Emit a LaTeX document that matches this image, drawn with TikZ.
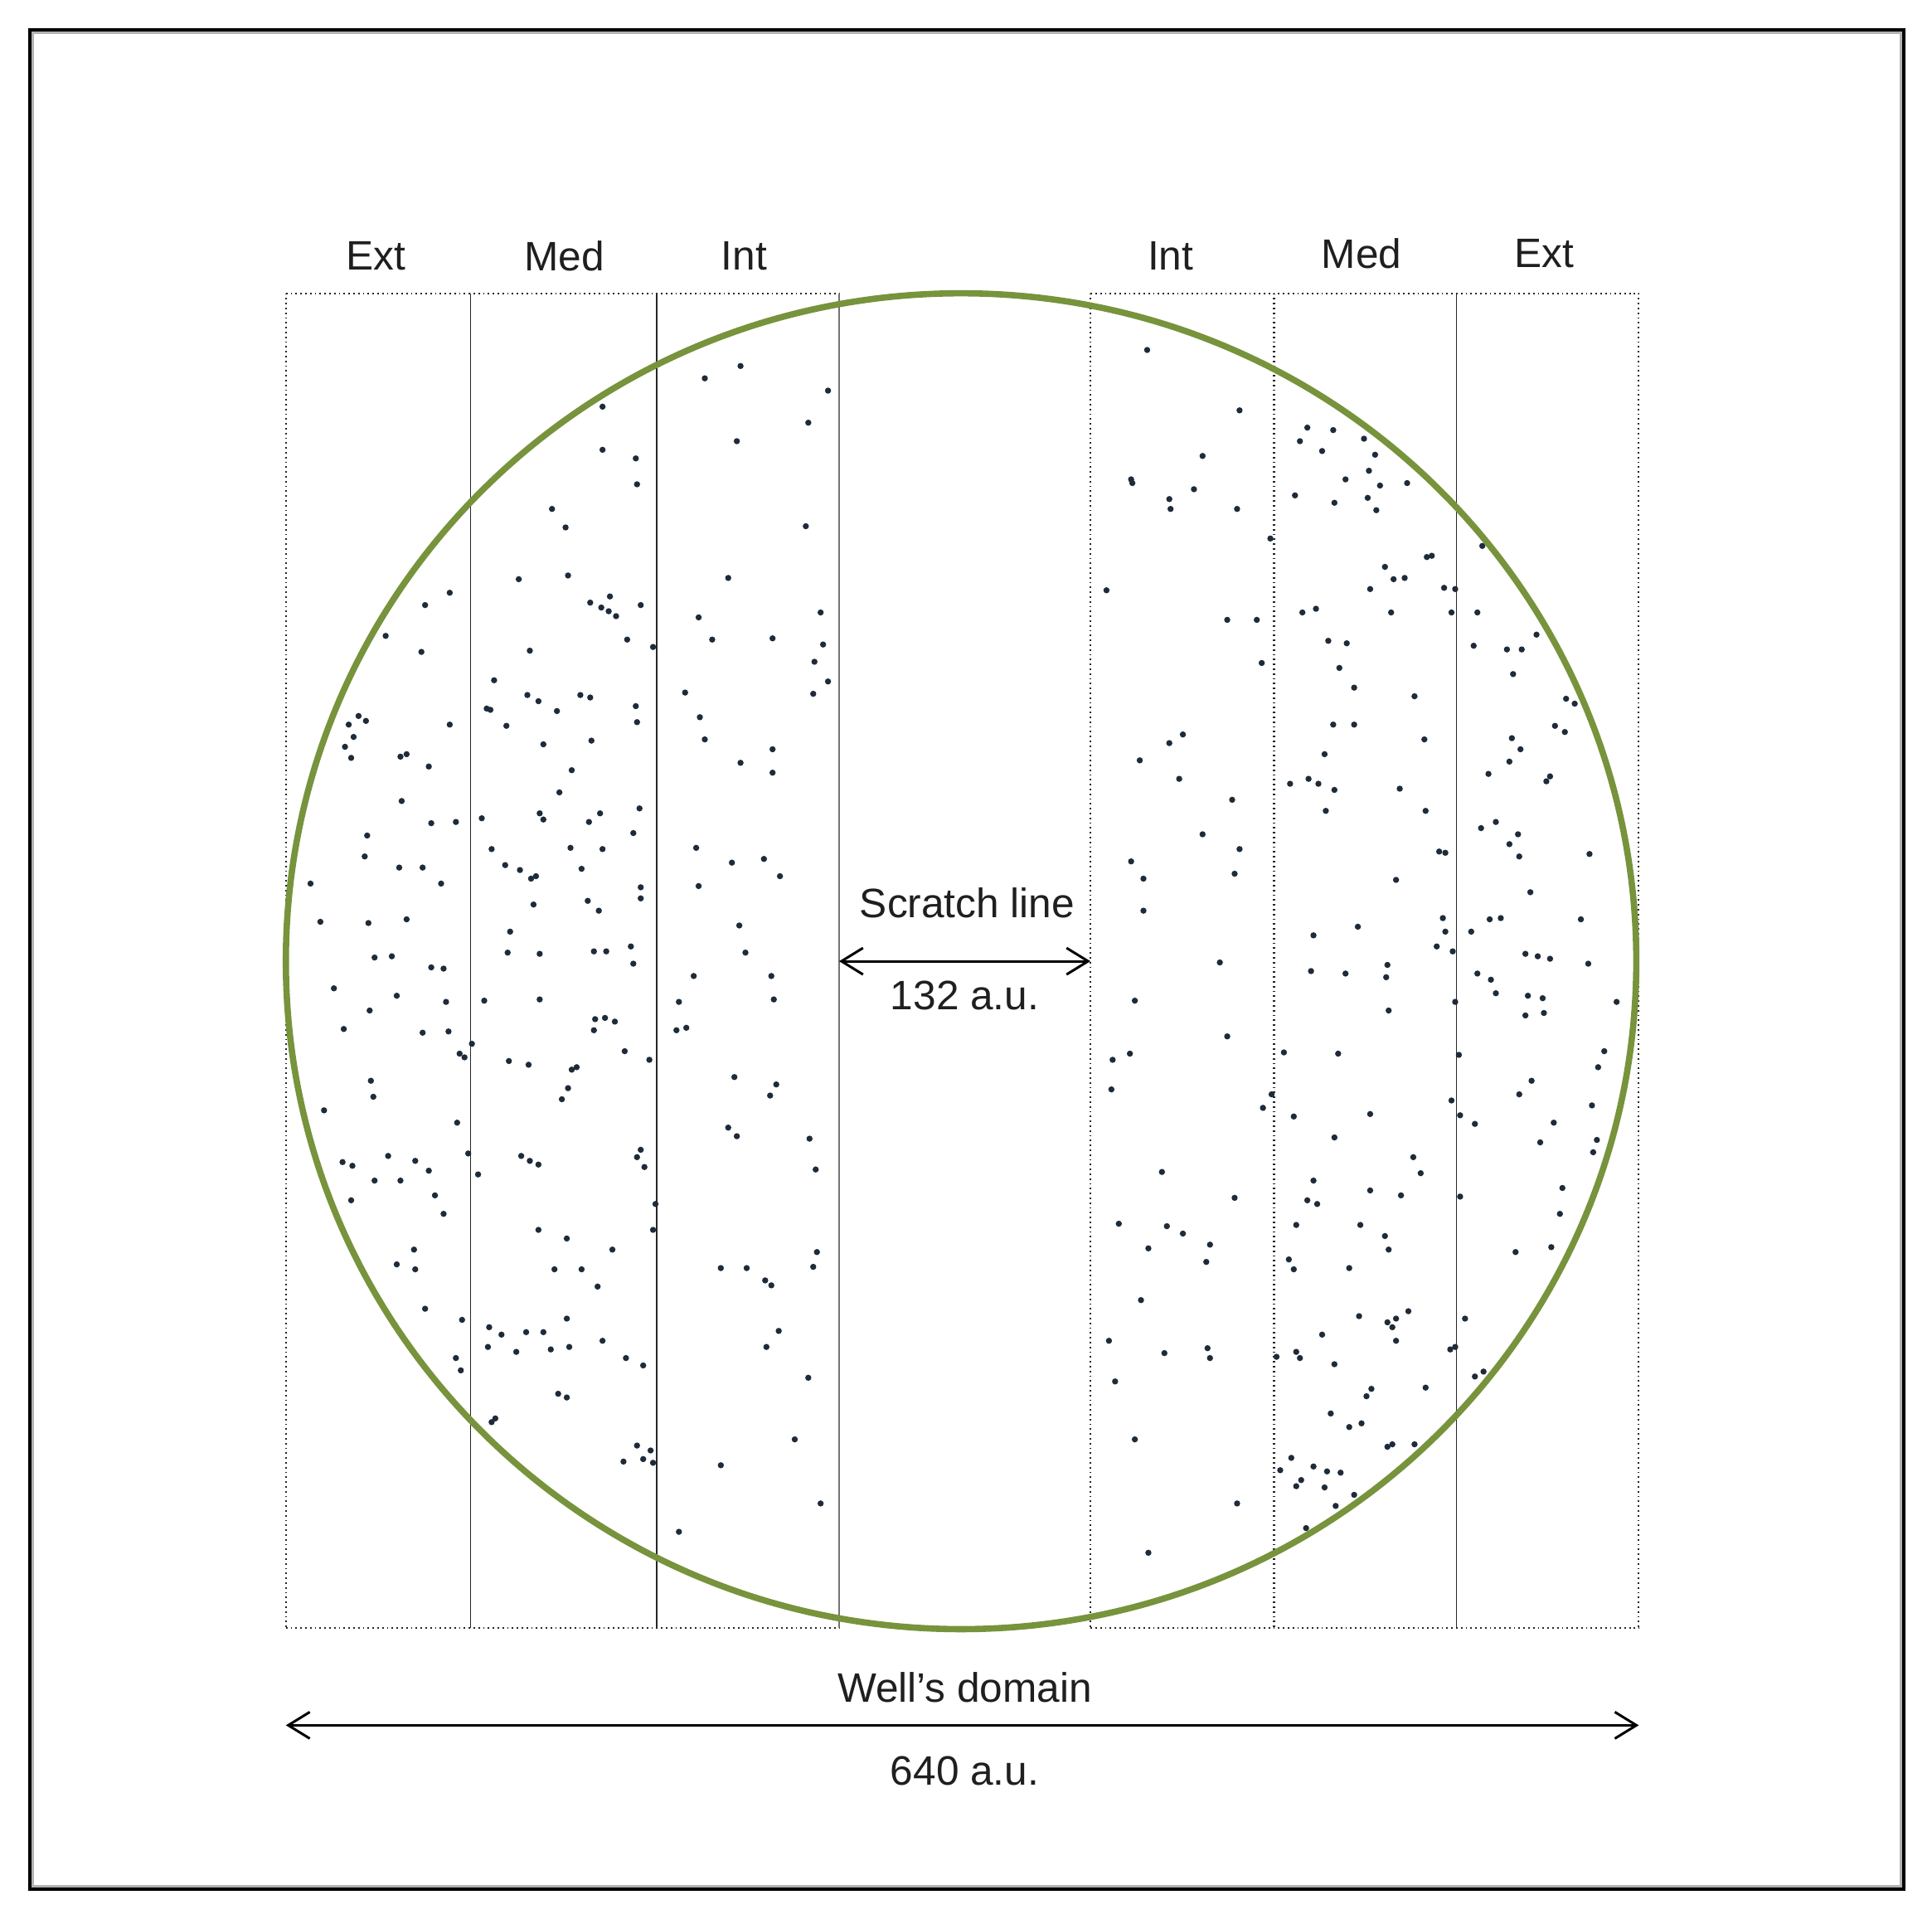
\documentclass[tikz,border=0pt]{standalone}
\usepackage{fontspec}
\setmainfont{Liberation Sans}
\usetikzlibrary{arrows.meta}
\definecolor{wellgreen}{HTML}{77933C}
\definecolor{celldot}{HTML}{1E2B3A}
\begin{document}
\begin{tikzpicture}[x=0.3715pt,y=-0.3715pt,
  lbl/.style={font=\fontsize{12.4}{14}\selectfont, text=black!88, inner sep=0pt, anchor=center},
  dimarrow/.style={line width=0.75pt, {Straight Barb[length=6.5pt,width=8pt]}-{Straight Barb[length=6.5pt,width=8pt]}},
  edgeline/.style={line width=0.45pt, densely dotted, black!85},
  innerline/.style={line width=0.4pt, black!85},
  greyline/.style={line width=0.4pt, black!55},
  celldots/.style={fill=celldot},
  wellrim/.style={draw=wellgreen, line width=1.9pt}
]
\useasboundingbox (0,0) rectangle (1568,1561);
% outer frame
\draw[black!30, line width=0.8pt] (26.5,26.5) rectangle (1542.5,1530.5);
\draw[black, line width=1pt] (24,24) rectangle (1545,1533);

% column frames
\draw[edgeline] (232,238) -- (681,238);
\draw[edgeline] (232,1321) -- (681,1321);
\draw[edgeline] (885,238) -- (1330,238);
\draw[edgeline] (885,1321) -- (1330,1321);
\draw[edgeline] (232,238) -- (232,1321);
\draw[innerline] (382,238) -- (382,1321);
\draw[innerline] (533,238) -- (533,1321);
\draw[greyline] (681,238) -- (681,1321);
\draw[edgeline] (885,238) -- (885,1321);
\draw[edgeline, line width=0.6pt] (1034,238) -- (1034,1321);
\draw[innerline] (1182,238) -- (1182,1321);
\draw[edgeline] (1330,238) -- (1330,1321);

% cells
\foreach \p in {
(313,516),(345,491),(365,481),(342,529),(291,581),(283,588),(287,598),(280,606),(285,615),(297,585),
(325,614),(330,612),(348,622),(365,588),(326,650),(298,678),(296,695),(350,668),(370,667),(324,704),
(343,704),(358,717),(252,717),(260,748),(299,749),(330,746),(304,777),(318,776),(350,785),(360,786),
(271,802),(300,820),(322,808),(279,835),(343,838),(362,813),(364,837),(373,855),(377,858),(301,877),
(303,890),(263,901),(371,911),(278,943),(286,946),(315,938),(304,958),(325,958),(337,942),(348,950),
(380,936),(285,974),(353,970),(360,985),(322,1026),(336,1014),(337,1030),(345,1062),(375,1071),(370,1102),(374,1112),
(489,330),(489,365),(516,372),(517,393),(448,413),(459,428),(421,470),(461,467),(479,489),(488,493),
(495,484),(494,496),(500,500),(520,491),(509,519),(530,525),(430,528),(401,552),(395,575),(398,576),
(411,589),(428,564),(437,569),(452,577),(471,564),(479,566),(441,604),(480,601),(516,573),(517,586),
(454,643),(464,625),(487,660),(478,667),(391,664),(438,660),(441,665),(489,689),(463,688),(514,676),
(519,656),(399,689),(410,702),(422,706),(431,713),(435,711),(433,734),(477,731),(486,739),(472,705),
(520,720),(520,729),(414,756),(412,773),(438,774),(482,772),(492,772),(512,768),(514,782),(393,812),
(438,811),(483,827),(491,826),(482,836),(499,829),(507,853),(527,860),(383,847),(413,861),(429,864),
(464,868),(468,866),(461,883),(456,892),(423,938),(430,942),(437,945),(388,953),(520,933),(517,939),
(523,947),(532,977),(530,998),(437,998),(460,1005),(450,1030),(472,1030),(485,1044),(497,1014),(397,1077),
(396,1093),(407,1083),(419,1097),(427,1081),(441,1081),(447,1095),(460,1070),(462,1093),(489,1088),(508,1102),
(522,1108),(453,1131),(460,1134),(402,1151),(399,1154),(506,1186),(517,1173),(522,1184),(528,1177),(530,1187),
(572,307),(601,297),(598,358),(672,317),(656,343),(654,427),(591,469),(567,501),(578,519),(627,518),
(666,497),(668,523),(661,537),(660,563),(672,553),(556,562),(568,582),(572,600),(601,619),(627,608),
(627,627),(565,688),(594,700),(620,697),(633,711),(567,719),(600,751),(605,773),(626,792),(628,811),
(563,792),(551,813),(549,836),(557,834),(596,874),(630,880),(625,889),(591,915),(598,922),(657,924),
(662,949),(585,1029),(606,1029),(621,1039),(626,1043),(632,1080),(622,1093),(663,1016),(660,1028),(656,1118),
(645,1168),(585,1189),(666,1220),(551,1243),
(931,284),(918,389),(919,392),(949,405),(950,413),(969,397),(976,370),(1006,333),(1004,413),(1031,437),
(898,479),(996,503),(1020,503),(1024,538),(949,603),(960,596),(925,617),(957,632),(1000,649),(976,677),
(1006,689),(1002,709),(918,699),(928,713),(928,739),(990,781),(996,841),(921,812),(903,860),(917,855),
(902,884),(1025,899),(1032,888),(943,951),(1002,972),(908,993),(947,995),(960,1001),(932,1013),(982,1010),
(979,1024),(926,1055),(900,1088),(905,1121),(945,1098),(980,1094),(982,1102),(921,1168),(1004,1220),(932,1260),
(1055,358),(1061,347),(1082,349),(1073,366),(1107,356),(1116,369),(1092,389),(1111,382),(1120,394),(1142,392),
(1051,402),(1083,408),(1110,404),(1117,414),(1162,451),(1158,452),(1140,469),(1124,460),(1131,470),(1112,478),
(1129,497),(1172,477),(1178,497),(1057,497),(1068,494),(1078,520),(1093,522),(1087,542),(1099,558),(1148,565),
(1082,588),(1099,588),(1075,612),(1156,600),(1062,632),(1070,636),(1076,658),(1083,641),(1047,636),(1136,640),
(1157,658),(1168,691),(1173,692),(1133,714),(1102,752),(1066,759),(1064,788),(1092,790),(1126,783),(1125,793),
(1127,820),(1171,745),(1173,756),(1166,768),(1042,854),(1086,855),(1050,906),(1112,904),(1083,923),(1147,939),
(1153,952),(1066,958),(1061,974),(1069,977),(1052,994),(1112,966),(1137,970),(1104,994),(1124,1003),(1127,1014),
(1046,1022),(1050,1030),(1095,1029),(1073,1083),(1036,1101),(1052,1097),(1055,1102),(1083,1107),(1103,1068),(1126,1073),
(1133,1070),(1143,1064),(1130,1077),(1133,1088),(1157,1126),(1113,1127),(1109,1133),(1080,1147),(1095,1158),(1105,1155),
(1126,1174),(1130,1172),(1148,1172),(1039,1193),(1048,1183),(1052,1206),(1056,1201),(1066,1190),(1077,1194),(1075,1207),
(1088,1195),(1084,1222),(1099,1213),(1060,1240),
(1203,443),(1181,478),(1199,497),(1196,524),(1223,527),(1235,527),(1247,515),(1228,547),(1271,567),(1278,571),
(1262,589),(1227,599),(1234,608),(1225,618),(1208,628),(1270,594),(1258,630),(1255,634),(1202,672),(1214,667),
(1232,677),(1225,685),(1233,695),(1242,724),(1290,693),(1283,746),(1209,746),(1218,745),(1194,756),(1179,772),
(1199,790),(1210,795),(1214,806),(1238,774),(1248,776),(1258,778),(1289,782),(1181,813),(1240,808),(1252,810),
(1238,824),(1253,822),(1312,813),(1302,853),(1297,866),(1184,856),(1243,877),(1233,888),(1178,893),(1197,912),
(1185,905),(1292,897),(1261,911),(1250,927),(1296,925),(1293,935),(1268,964),(1266,985),(1185,971),(1259,1012),
(1230,1016),(1189,1070),(1177,1095),(1181,1093),(1197,1117),(1204,1113)}
  \fill[celldots] \p circle[radius=2.5];

% well rim
\draw[wellrim] (780,780) ellipse [x radius=548, y radius=542];

% zone labels
\node[lbl] (ext1) at (305,208) {Ext};
\node[lbl] (med1) at (458,208) {Med};
\node[lbl] (int1) at (604,208) {Int};
\node[lbl] (int2) at (950,208) {Int};
\node[lbl] (med2) at (1105,206) {Med};
\node[lbl] (ext2) at (1253,206) {Ext};

% scratch line dimension
\node[lbl] (scratch) at (785,733) {Scratch line};
\coordinate (sL) at (681,780);
\coordinate (sR) at (885,780);
\draw[dimarrow] (sL) -- (sR);
\node[lbl] (sval) at (783,808) {132 a.u.};

% well domain dimension
\node[lbl] (well) at (783,1369) {Well’s domain};
\coordinate (wL) at (232,1400);
\coordinate (wR) at (1330,1400);
\draw[dimarrow] (wL) -- (wR);
\node[lbl] (wval) at (783,1437) {640 a.u.};
\end{tikzpicture}
\end{document}
